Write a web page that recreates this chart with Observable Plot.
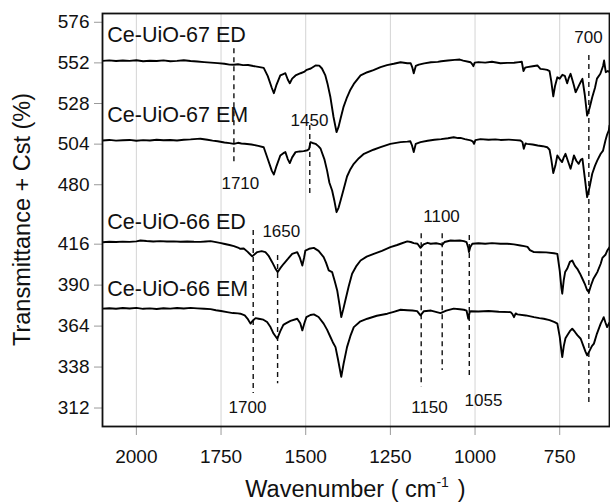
<!DOCTYPE html>
<html>
<head>
<meta charset="utf-8">
<script src="https://cdn.jsdelivr.net/npm/d3@7"></script>
<script src="https://cdn.jsdelivr.net/npm/@observablehq/plot@0.6"></script>
<style>
  body { margin: 0; background: #fff; }
  #chart svg { display: block; font-family: Arial, "Liberation Sans", Helvetica, sans-serif; }
</style>
</head>
<body>
<div id="chart"></div>
<script>
// Axis ticks (wavenumber axis runs from high to low)
const xTicks = [2000, 1750, 1500, 1250, 1000, 750];
const yTicks = [576, 552, 528, 504, 480, 416, 390, 364, 338, 312];

// Spectra: [wavenumber (cm-1), transmittance + offset (%)]
const seriesNames = ["Ce-UiO-67 ED", "Ce-UiO-67 EM", "Ce-UiO-66 ED", "Ce-UiO-66 EM"];

const ed67 = [[2100,552.0],[2080,552.3],[2060,551.9],[2040,552.2],[2020,552.0],[2000,552.4],[1980,551.8],[1960,552.1],[1940,551.9],[1920,552.3],[1900,551.8],[1880,552.0],[1860,552.4],[1840,551.9],[1820,551.6],[1800,551.3],[1780,551.0],[1760,550.7],[1740,550.3],[1725,549.8],[1712,549.7],[1700,550.0],[1685,549.5],[1670,549.6],[1655,549.0],[1640,548.5],[1624,547.9],[1612,543.0],[1600,536.0],[1594,532.9],[1586,538.0],[1575,543.4],[1566,544.2],[1560,544.7],[1553,541.0],[1547,538.8],[1540,541.5],[1530,543.4],[1515,544.7],[1505,545.5],[1497,546.7],[1485,547.5],[1471,549.3],[1460,549.2],[1452,547.5],[1442,543.4],[1435,538.0],[1427,530.5],[1418,519.0],[1409,509.9],[1403,513.0],[1397,518.0],[1388,525.0],[1378,530.5],[1368,535.0],[1358,538.4],[1338,543.4],[1318,545.3],[1300,546.5],[1279,548.3],[1260,549.5],[1240,550.3],[1220,551.2],[1200,550.6],[1190,550.6],[1185,548.0],[1181,544.7],[1175,549.0],[1166,549.8],[1150,550.5],[1130,551.2],[1110,551.4],[1100,551.8],[1080,552.2],[1060,552.6],[1045,552.8],[1035,552.2],[1020,551.5],[1013,551.2],[1008,550.0],[1005,548.9],[1001,551.0],[990,551.3],[970,551.0],[950,551.5],[925,550.6],[905,550.8],[885,550.9],[870,551.3],[862,551.5],[857,546.0],[852,548.0],[846,548.3],[830,548.8],[816,549.3],[807,547.3],[795,547.0],[787,546.7],[780,546.0],[775,540.0],[769,531.0],[764,537.0],[757,542.3],[750,541.5],[742,543.8],[735,543.2],[728,538.8],[723,542.0],[718,544.4],[713,541.0],[708,537.5],[703,533.5],[698,535.5],[692,538.0],[688,539.5],[683,541.4],[676,532.0],[669,519.7],[662,524.0],[654,530.5],[646,536.0],[640,541.5],[630,544.4],[622,549.0],[619,552.2],[616,548.0],[614,545.3],[608,546.0],[603,545.5]];

const em67 = [[2100,505.0],[2080,505.3],[2060,504.9],[2040,505.1],[2020,505.3],[2000,504.8],[1980,505.2],[1960,505.0],[1940,505.4],[1920,505.1],[1900,505.3],[1880,505.0],[1860,505.4],[1840,505.6],[1820,505.9],[1811,506.0],[1790,505.4],[1775,504.9],[1760,504.5],[1740,503.8],[1725,503.4],[1712,503.0],[1700,503.6],[1690,503.2],[1680,503.0],[1660,502.6],[1640,501.8],[1624,501.0],[1612,494.0],[1600,487.0],[1594,484.9],[1586,490.0],[1575,496.1],[1566,497.5],[1560,498.1],[1553,494.0],[1547,491.6],[1540,495.0],[1530,498.1],[1518,498.5],[1506,498.7],[1495,499.2],[1490,500.0],[1486,504.0],[1480,503.5],[1471,503.0],[1462,501.5],[1456,500.1],[1445,494.0],[1437,487.3],[1430,480.0],[1422,471.7],[1415,460.0],[1409,448.3],[1403,453.0],[1397,460.9],[1388,473.0],[1378,483.7],[1368,488.0],[1358,491.2],[1343,494.5],[1328,497.1],[1300,499.5],[1279,501.0],[1250,503.0],[1220,504.0],[1200,504.3],[1191,504.5],[1186,502.0],[1181,498.1],[1175,503.0],[1161,504.0],[1140,504.8],[1120,505.4],[1100,505.8],[1080,506.3],[1063,506.9],[1050,506.4],[1043,506.5],[1030,505.8],[1013,505.0],[1007,504.5],[1003,503.0],[999,505.2],[984,505.8],[960,505.4],[940,505.6],[925,505.3],[900,505.5],[880,505.2],[866,505.0],[860,504.0],[856,500.1],[851,503.2],[846,503.0],[830,502.6],[815,502.0],[800,501.6],[787,501.0],[780,499.5],[775,494.0],[769,485.7],[763,490.0],[757,496.1],[750,494.0],[743,492.2],[738,495.0],[733,497.1],[726,493.0],[718,488.3],[713,492.0],[708,496.1],[701,493.0],[694,491.2],[688,493.5],[683,494.2],[676,483.0],[669,464.5],[662,475.0],[654,485.3],[646,490.0],[639,493.2],[629,497.1],[622,499.0],[615,505.0],[610,508.5],[605,510.9],[603,513.8]];

const ed66 = [[2100,416.0],[2080,416.4],[2060,416.2],[2040,416.6],[2020,416.3],[2000,416.9],[1988,417.8],[1970,417.2],[1950,416.8],[1930,417.1],[1910,416.7],[1890,416.9],[1870,416.5],[1850,416.8],[1830,416.4],[1811,416.3],[1795,416.8],[1781,417.1],[1765,416.0],[1750,415.4],[1742,415.0],[1725,414.2],[1712,413.5],[1700,412.6],[1693,411.8],[1683,412.0],[1672,410.0],[1665,408.5],[1658,407.0],[1650,408.5],[1643,409.7],[1630,410.3],[1619,409.7],[1610,407.5],[1599,403.3],[1590,399.5],[1583,397.0],[1575,399.5],[1565,402.3],[1552,405.5],[1540,408.6],[1525,409.7],[1517,406.0],[1510,401.2],[1505,406.0],[1501,410.7],[1490,411.8],[1476,412.4],[1462,410.5],[1447,406.5],[1440,403.0],[1432,398.1],[1422,397.0],[1414,391.0],[1407,385.4],[1400,376.0],[1395,368.5],[1389,373.5],[1383,379.0],[1373,388.0],[1363,396.0],[1350,401.0],[1338,404.4],[1320,406.8],[1299,408.6],[1275,410.5],[1250,412.8],[1230,414.2],[1220,415.0],[1200,416.8],[1190,416.2],[1181,415.4],[1170,415.0],[1161,412.4],[1152,414.6],[1140,415.6],[1131,415.0],[1115,415.3],[1102,414.8],[1097,414.2],[1090,416.2],[1072,417.8],[1060,417.5],[1045,417.8],[1033,417.1],[1025,416.0],[1020,412.5],[1018,409.7],[1014,413.0],[1008,415.0],[990,415.3],[970,415.0],[950,415.4],[925,415.0],[905,415.0],[885,414.6],[866,413.9],[855,413.5],[845,413.0],[838,411.0],[826,409.7],[810,409.6],[790,409.5],[767,409.0],[757,408.6],[750,398.0],[745,387.0],[742.5,383.3],[738,392.0],[734,397.0],[728,399.1],[720,403.5],[713,404.4],[705,401.0],[698,399.1],[690,396.0],[683,392.8],[675,389.0],[669,385.5],[664,384.3],[657,389.0],[650,393.0],[643,395.5],[639,397.0],[629,402.3],[624,406.0],[615,408.0],[610,410.5],[603,412.8]];

const em66 = [[2100,373.8],[2080,374.1],[2060,373.7],[2040,374.2],[2020,373.9],[2000,374.3],[1980,373.7],[1960,374.0],[1940,373.6],[1920,374.1],[1900,373.8],[1880,374.2],[1860,373.9],[1840,374.3],[1820,374.0],[1800,373.7],[1781,373.5],[1765,372.8],[1750,372.3],[1732,371.6],[1715,371.0],[1700,370.8],[1693,370.6],[1680,369.5],[1672,367.5],[1663,364.3],[1655,366.5],[1648,367.8],[1639,367.4],[1625,366.8],[1614,365.3],[1605,362.5],[1595,358.0],[1584,354.7],[1575,359.5],[1566,363.5],[1560,364.3],[1545,366.0],[1525,367.4],[1516,364.5],[1510,360.0],[1504,364.5],[1498,368.4],[1486,369.8],[1476,370.2],[1462,368.5],[1447,364.3],[1437,360.5],[1427,355.8],[1420,352.5],[1412,349.4],[1405,342.0],[1395,330.5],[1388,339.0],[1378,349.4],[1368,356.5],[1358,362.1],[1340,365.5],[1318,367.4],[1290,369.3],[1259,370.6],[1240,371.8],[1220,373.1],[1200,372.8],[1185,372.6],[1171,372.2],[1161,369.5],[1151,372.2],[1130,372.6],[1102,371.0],[1085,372.5],[1063,373.8],[1045,373.4],[1033,373.1],[1025,372.5],[1020,367.4],[1016,371.5],[1013,372.2],[990,372.0],[960,372.3],[930,371.8],[895,371.6],[890,370.5],[885,368.4],[880,370.8],[875,370.2],[850,369.5],[826,368.4],[810,367.8],[797,367.4],[780,366.5],[765,365.2],[757,364.3],[750,356.0],[745,347.0],[742.5,343.1],[738,350.0],[733,355.0],[728,356.8],[720,359.5],[713,361.1],[705,359.0],[698,357.0],[688,354.7],[680,350.0],[674,346.5],[669,344.2],[662,347.0],[655,350.0],[649,351.6],[640,358.0],[629,364.3],[624,366.5],[620,368.4],[615,365.0],[610,362.1],[603,365.0]];

// Where each series name is written
const seriesLabelX = 2086;
const seriesLabelY = [563.0, 515.8, 430.4, 381.8];

// Marked bands: dashed guides and their captions
const peakLabels    = ["1710", "1450", "1650", "1700", "1100", "1150", "1055", "700"];
const peakPositions = [1712, 1488, 1583, 1655, 1097, 1159, 1017, 664];
const peakTop       = [559.1, 513.8, 407.6, 428.6, 425.1, 425.1, 423.2, 555.2];
const peakBottom    = [490.2, 468.1, 326.2, 319.9, 334.6, 324.1, 330.4, 312.4];
const peakLabelX    = [1693, 1489, 1572, 1672, 1099, 1134.5, 975, 665];
const peakLabelY    = [473.5, 513.8, 421.1, 307.4, 437.8, 307.4, 311.8, 562.8];

// Tidy tables built from the arrays above
const spectra = [ed67, em67, ed66, em66].flatMap((pts, i) =>
  pts.map(([w, t]) => ({series: seriesNames[i], w, t})));
const seriesLabels = seriesNames.map((name, i) => ({name, x: seriesLabelX, y: seriesLabelY[i]}));
const peaks = peakLabels.map((label, i) => ({
  label, w: peakPositions[i], top: peakTop[i], bottom: peakBottom[i],
  lx: peakLabelX[i], ly: peakLabelY[i]
}));

const width = 610, height = 503;
const marginTop = 13, marginBottom = 77, marginLeft = 102, marginRight = 1;

// The vertical axis is broken: the two upper spectra and the two lower
// spectra use their own tick spacing, joined by a compressed segment.
const yDomain = [299, 416, 480, 580];
const yFrac = [0, 0.4463, 0.5902, 1]; // share of the plot height at each knot
const plotH = height - marginTop - marginBottom;
const yRange = yFrac.map(f => height - marginBottom - f * plotH);

const chart = Plot.plot({
  width, height, marginTop, marginBottom, marginLeft, marginRight,
  style: {fontFamily: "Arial, 'Liberation Sans', Helvetica, sans-serif", color: "#111", background: "#fff"},
  x: {domain: [2100, 603], type: "linear"},
  y: {type: "linear", domain: yDomain, range: yRange},
  marks: [
    Plot.ruleX(xTicks, {stroke: "#d4d4d4", strokeWidth: 1}),
    Plot.axisX({ticks: xTicks, tickSize: 9, tickPadding: 14, stroke: "#9a9a9a", fill: "#111", fontSize: 19, label: null, tickFormat: d => String(d)}),
    Plot.axisY({ticks: yTicks, tickSize: 8, tickPadding: 5, stroke: "#9a9a9a", fill: "#111", fontSize: 19, dy: 2, label: null, tickFormat: d => String(d)}),
    Plot.ruleX(peaks, {x: "w", y1: "top", y2: "bottom", stroke: "#111", strokeWidth: 1.4, strokeDasharray: "5,4"}),
    Plot.line(spectra, {x: "w", y: "t", z: "series", stroke: "#000", strokeWidth: 1.9, strokeLinejoin: "round", clip: true}),
    Plot.text(seriesLabels, {x: "x", y: "y", text: "name", textAnchor: "start", lineAnchor: "bottom", fontSize: 21.5, fill: "#111"}),
    Plot.text(peaks, {x: "lx", y: "ly", text: "label", textAnchor: "middle", lineAnchor: "bottom", fontSize: 17, fill: "#111"}),
    Plot.frame({stroke: "#111", strokeWidth: 1.8})
  ]
});

document.getElementById("chart").append(chart);

// Axis titles (the x title carries a superscript unit)
const svg = d3.select(chart);
const xTitle = svg.append("text")
  .attr("x", (marginLeft + width - marginRight) / 2)
  .attr("y", 497)
  .attr("text-anchor", "middle")
  .attr("font-size", 23.5)
  .attr("fill", "#111");
xTitle.append("tspan").text("Wavenumber ( cm");
xTitle.append("tspan").attr("font-size", 14).attr("dy", -10).text("-1");
xTitle.append("tspan").attr("dy", 10).attr("dx", 9).text(")");

svg.append("text")
  .attr("transform", `translate(22,${(marginTop + height - marginBottom) / 2}) rotate(-90)`)
  .attr("text-anchor", "middle")
  .attr("dy", "0.35em")
  .attr("font-size", 23.5)
  .attr("fill", "#111")
  .text("Transmittance + Cst (%)");
</script>
</body>
</html>
